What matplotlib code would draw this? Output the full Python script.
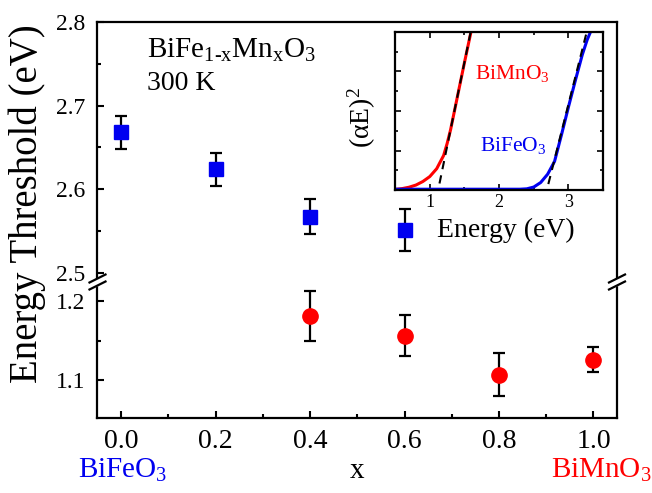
import matplotlib
matplotlib.use("Agg")
import matplotlib.pyplot as plt
from matplotlib.ticker import MultipleLocator, FixedLocator, FormatStrFormatter
from matplotlib.patches import Polygon

plt.rcParams['font.family'] = 'Liberation Serif'
plt.rcParams['mathtext.fontset'] = 'custom'
plt.rcParams['mathtext.rm'] = 'Liberation Serif'
plt.rcParams['mathtext.it'] = 'Liberation Serif:italic'

# band gap vs Mn content
x_fe = [0.0, 0.2, 0.4, 0.6]
gap_fe = [2.668, 2.624, 2.567, 2.551]
err_fe = [0.020, 0.020, 0.021, 0.025]
x_mn = [0.4, 0.6, 0.8, 1.0]
gap_mn = [1.181, 1.156, 1.107, 1.126]
err_mn = [0.031, 0.026, 0.027, 0.016]

# inset: (alpha E)^2 curves, arbitrary units
e_mn = [0.5, 0.6, 0.7, 0.8, 0.9, 1.0, 1.1, 1.2, 1.25, 1.3, 1.4, 1.5, 1.6]
a_mn = [0.03, 0.07, 0.14, 0.25, 0.43, 0.68, 1.08, 1.75, 2.35, 3.05, 4.75, 6.45, 8.1]
e_fe = [0.5, 2.3, 2.4, 2.5, 2.6, 2.7, 2.8, 2.9, 3.0, 3.1, 3.2, 3.27, 3.33]
a_fe = [0.04, 0.04, 0.06, 0.15, 0.38, 0.8, 1.45, 2.8, 4.2, 5.55, 6.85, 7.6, 8.1]
fit_mn_e = [1.14, 1.59]
fit_mn_a = [0.33, 8.0]
fit_fe_e = [2.71, 3.26]
fit_fe_a = [0.3, 7.95]

W, H = 652, 493
fig = plt.figure(figsize=(W / 100, H / 100), dpi=100)

ax_top = fig.add_axes([0.1495, 0.428, 0.797, 0.527])
ax_bot = fig.add_axes([0.1495, 0.152, 0.797, 0.276])

for ax in (ax_top, ax_bot):
    ax.set_xlim(-0.05, 1.05)
    for s in ax.spines.values():
        s.set_linewidth(1.6)
    ax.tick_params(which='both', direction='in', width=1.5, right=False, top=False)
    ax.tick_params(which='major', length=5)
    ax.tick_params(which='minor', length=3)
    ax.tick_params(axis='y', labelsize=17, pad=9)

ax_top.set_ylim(2.489, 2.8)
ax_top.yaxis.set_major_locator(MultipleLocator(0.1))
ax_top.yaxis.set_minor_locator(MultipleLocator(0.05))
ax_top.spines['bottom'].set_visible(False)
ax_top.tick_params(axis='x', which='both', bottom=False, labelbottom=False)

ax_bot.set_ylim(1.052, 1.224)
ax_bot.yaxis.set_major_locator(FixedLocator([1.1, 1.2]))
ax_bot.yaxis.set_minor_locator(FixedLocator([1.15]))
ax_bot.spines['top'].set_visible(False)
ax_bot.xaxis.set_major_locator(MultipleLocator(0.2))
ax_bot.xaxis.set_minor_locator(MultipleLocator(0.1))
ax_bot.xaxis.set_major_formatter(FormatStrFormatter('%.1f'))
ax_bot.tick_params(axis='x', labelsize=20, pad=8)

ax_top.errorbar(x_fe, gap_fe, yerr=err_fe, fmt='none', ecolor='black',
                elinewidth=1.6, capsize=4, capthick=1.6, zorder=2)
ax_top.plot(x_fe, gap_fe, 's', color='#0000f0', markersize=10, zorder=3)
ax_bot.errorbar(x_mn, gap_mn, yerr=err_mn, fmt='none', ecolor='black',
                elinewidth=1.6, capsize=4, capthick=1.6, zorder=2)
ax_bot.plot(x_mn, gap_mn, 'o', color='#ff0000', markersize=11, zorder=3)

fig.text(147 / W, 1 - 58 / H, r'$\mathrm{BiFe_{1\text{-}x}Mn_xO_3}$', fontsize=21)
fig.text(147 / W, 1 - 90 / H, '300 K', fontsize=20)

fig.text(27 / W, 1 - 204 / H, 'Energy Threshold (eV)', rotation=90,
         ha='center', va='center', fontsize=28)

fig.text(123 / W, 1 - 478 / H, r'$\mathrm{BiFeO_3}$', color='#0000f0', fontsize=21,
         ha='center', va='baseline')
fig.text(601 / W, 1 - 478 / H, r'$\mathrm{BiMnO_3}$', color='#ff0000', fontsize=21,
         ha='center', va='baseline')
fig.text(357 / W, 1 - 478 / H, 'x', fontsize=21, ha='center', va='baseline')

# break marks on both spines
def break_mark(xp, yp):
    pts = [(xp - 8, yp + 0.5), (xp + 8, yp - 7.5), (xp + 8, yp + 0.5), (xp - 8, yp + 8.5)]
    fig.patches.append(Polygon([(a / W, 1 - b / H) for a, b in pts], closed=True,
                               facecolor='white', edgecolor='none',
                               transform=fig.transFigure, zorder=5))
    for off in (-3.5, 3.5):
        fig.add_artist(plt.Line2D([(xp - 8) / W, (xp + 8) / W],
                                  [1 - (yp + off + 4) / H, 1 - (yp + off - 4) / H],
                                  color='black', lw=1.6, transform=fig.transFigure,
                                  zorder=6))

break_mark(97.5, 282)
break_mark(617, 282)

# inset
ins = fig.add_axes([0.606, 0.6146, 0.319, 0.3205])
ins.plot(e_mn, a_mn, color='#ff0000', lw=2.2)
ins.plot(e_fe, a_fe, color='#0000f0', lw=2.2)
ins.plot(fit_mn_e, fit_mn_a, '--', color='black', lw=1.5, dashes=(4, 3))
ins.plot(fit_fe_e, fit_fe_a, '--', color='black', lw=1.5, dashes=(4, 3))
ins.set_xlim(0.5, 3.5)
ins.set_ylim(0, 8)
ins.xaxis.set_major_locator(MultipleLocator(1))
ins.xaxis.set_minor_locator(MultipleLocator(0.5))
ins.yaxis.set_major_locator(MultipleLocator(2))
ins.yaxis.set_minor_locator(MultipleLocator(1))
ins.tick_params(which='both', direction='in', top=True, right=True, width=1.2,
                labelleft=False, labelsize=13, pad=3)
ins.tick_params(which='major', length=4)
ins.tick_params(which='minor', length=2.5)
for s in ins.spines.values():
    s.set_linewidth(1.6)
ins.text(1.65, 5.6, r'$\mathrm{BiMnO_3}$', color='#ff0000', fontsize=15.5)
ins.text(1.73, 2.0, r'$\mathrm{BiFeO_3}$', color='#0000f0', fontsize=15.5)
fig.text(506 / W, 1 - 230 / H, 'Energy (eV)', fontsize=20, ha='center', va='center')
fig.text(362 / W, 1 - 118 / H, r'$\mathrm{(αE)^2}$', fontsize=20, rotation=90,
         ha='center', va='center')

fig.savefig('out.png', dpi=100)
